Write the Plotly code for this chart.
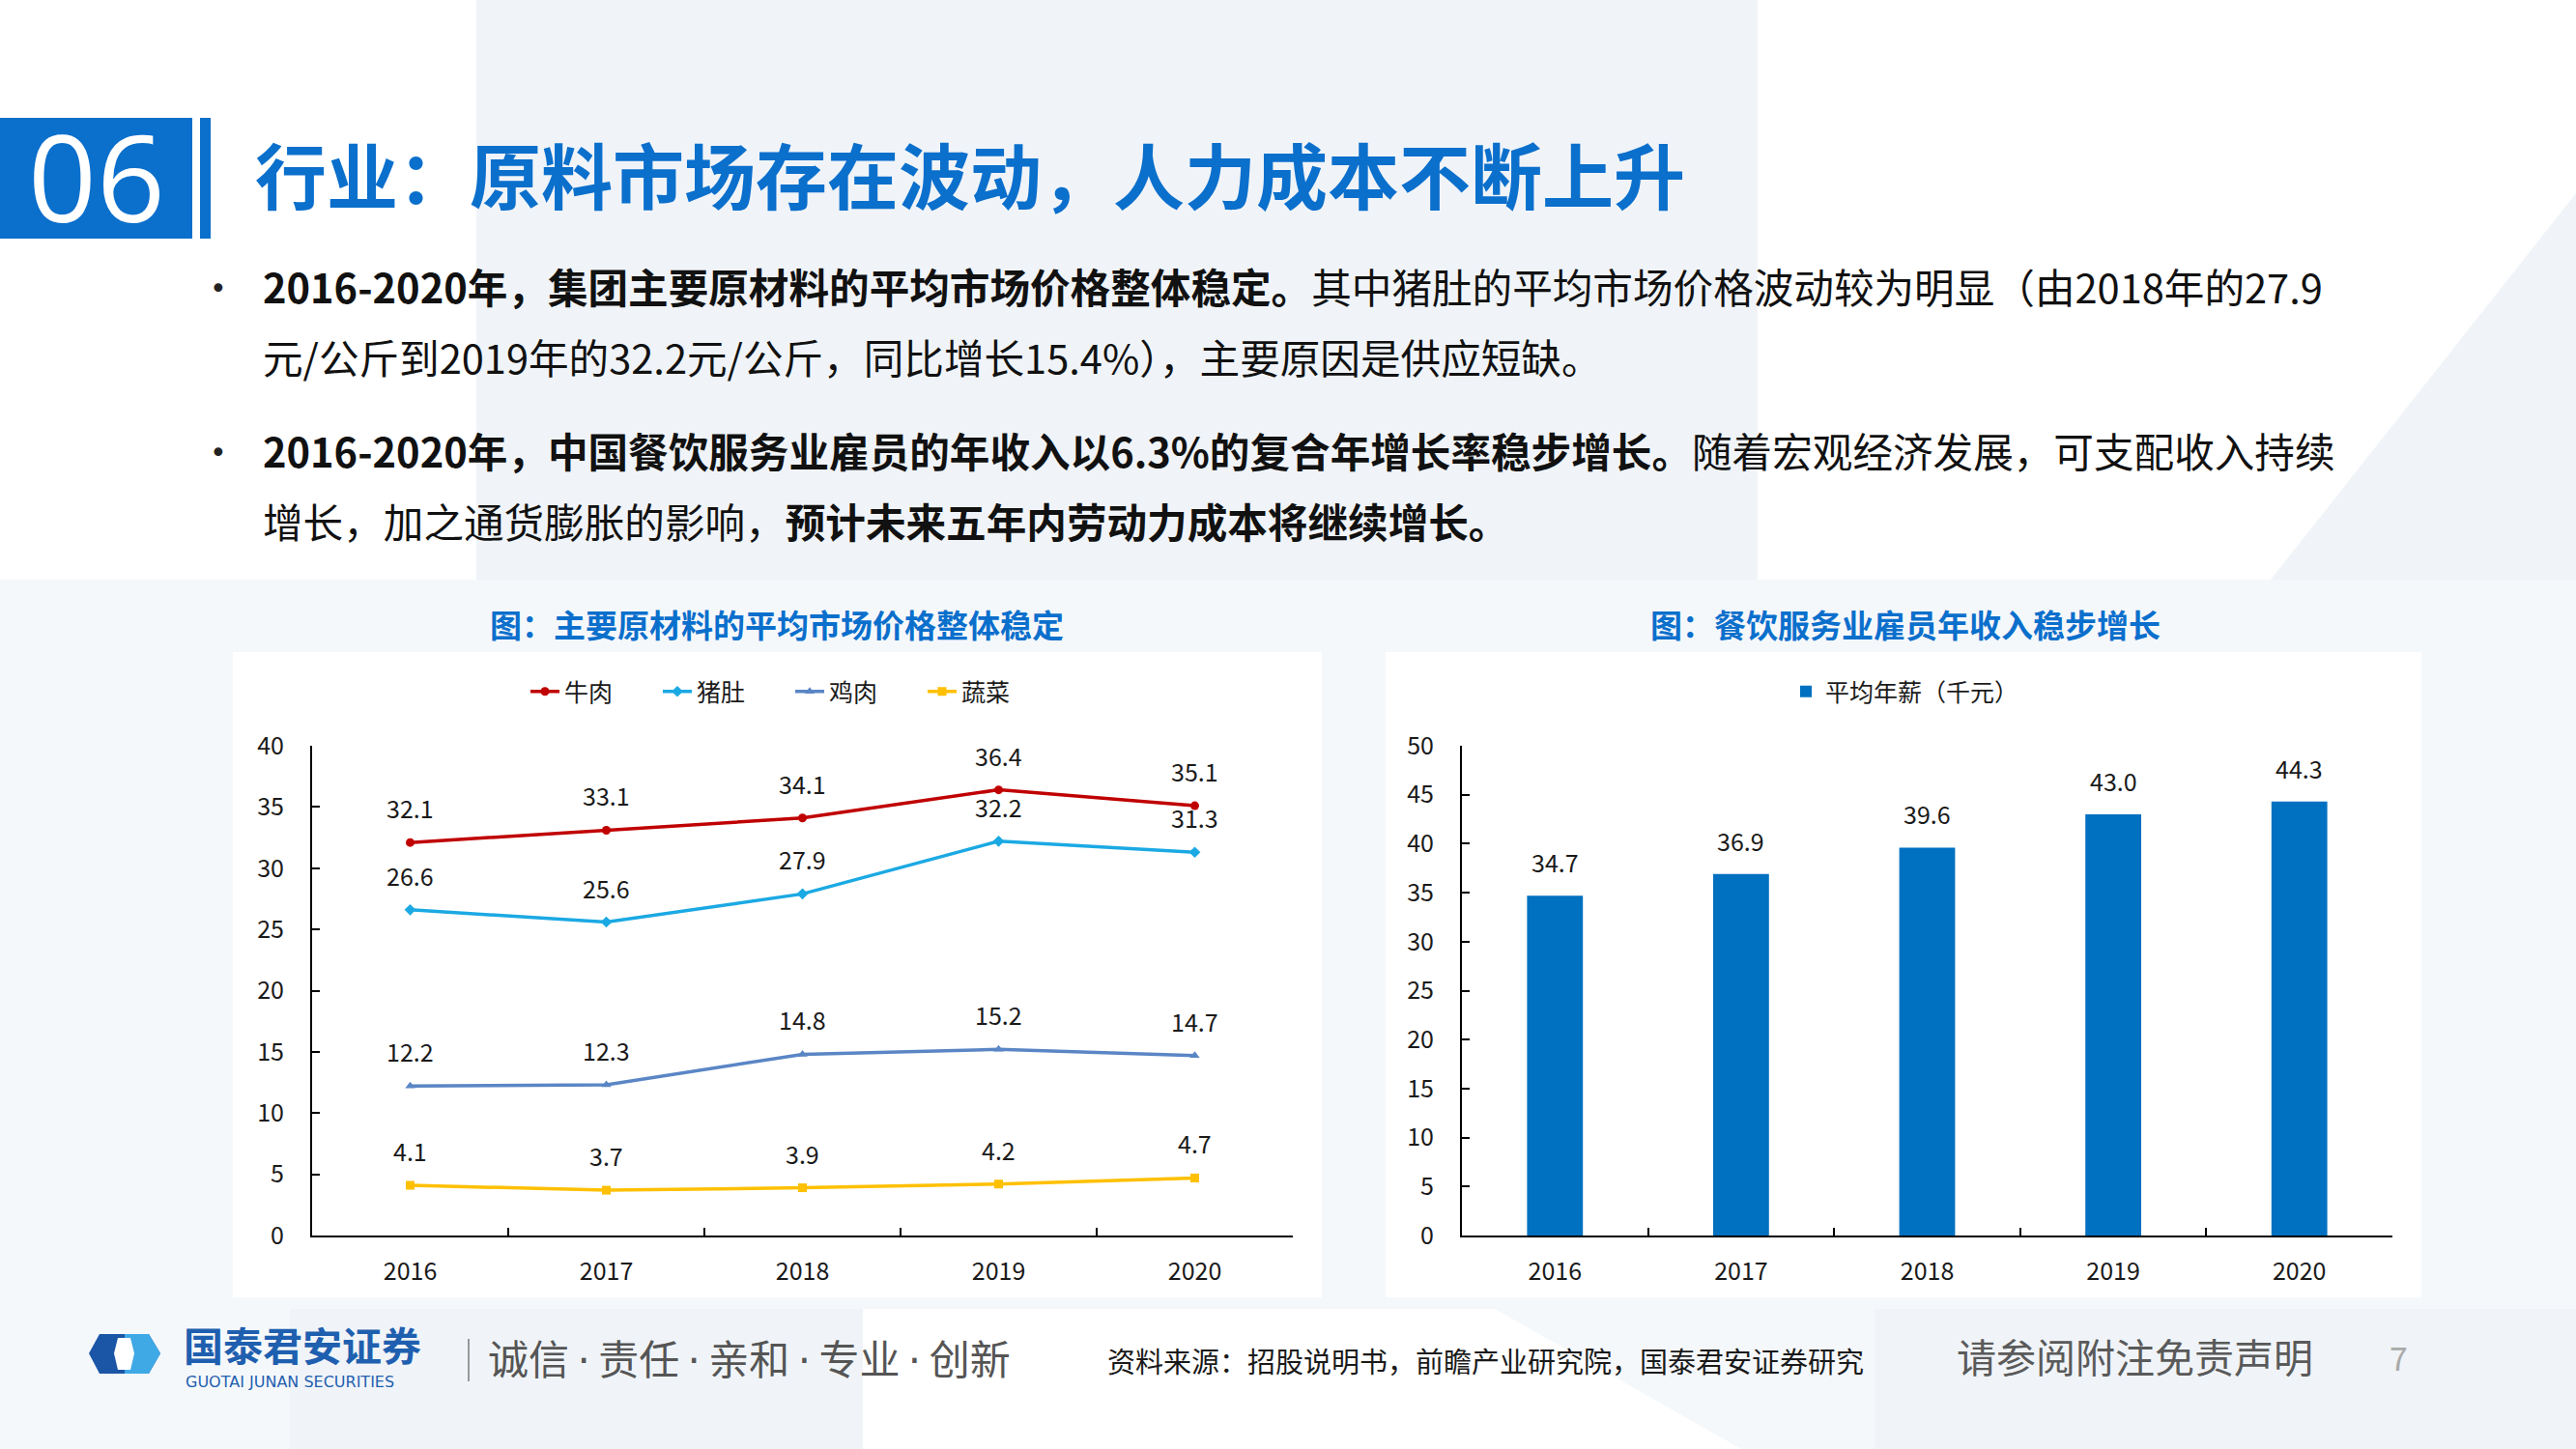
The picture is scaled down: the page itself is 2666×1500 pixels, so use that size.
import plotly.graph_objects as go

W, H = 2666, 1500

# ---------------- data ----------------
years = ["2016", "2017", "2018", "2019", "2020"]
beef = [32.1, 33.1, 34.1, 36.4, 35.1]        # 牛肉
tripe = [26.6, 25.6, 27.9, 32.2, 31.3]       # 猪肚
chicken = [12.2, 12.3, 14.8, 15.2, 14.7]     # 鸡肉
veg = [4.1, 3.7, 3.9, 4.2, 4.7]              # 蔬菜
salary = [34.7, 36.9, 39.6, 43.0, 44.3]      # 平均年薪（千元）

line_names = ["牛肉", "猪肚", "鸡肉", "蔬菜"]
line_colors = ["#C00000", "#1BA9E3", "#5A86C5", "#FFC000"]
line_symbols = ["circle", "diamond", "triangle-up", "square"]
line_values = [beef, tripe, chicken, veg]

y1_ticks = [0, 5, 10, 15, 20, 25, 30, 35, 40]
y2_ticks = [0, 5, 10, 15, 20, 25, 30, 35, 40, 45, 50]

FONT = "Noto Sans CJK SC"
BLUE = "#0B6FCC"


def px(x):
    return x / W


def py(y):
    return 1 - y / H


fig = go.Figure()

for name, vals, col, sym in zip(line_names, line_values, line_colors, line_symbols):
    fig.add_trace(go.Scatter(
        x=years, y=vals, name=name, mode="lines+markers",
        line=dict(color=col, width=3.5),
        marker=dict(symbol=sym, size=9, color=col),
        xaxis="x", yaxis="y", legend="legend",
    ))

fig.add_trace(go.Bar(
    x=years, y=salary, name="平均年薪（千元）",
    marker=dict(color="#0070C0", line=dict(width=0)),
    xaxis="x2", yaxis="y2", legend="legend2",
))

annotations = []
# data labels (x given as category index on the category axes)
for vals in line_values:
    for i, yv in enumerate(vals):
        annotations.append(dict(
            x=i, y=yv, xref="x", yref="y", text=f"{yv:.1f}", showarrow=False,
            xanchor="center", yanchor="middle",
            yshift=36, font=dict(family=FONT, size=25, color="#1a1a1a"),
        ))
for i, yv in enumerate(salary):
    annotations.append(dict(
        x=i, y=yv, xref="x2", yref="y2", text=f"{yv:.1f}", showarrow=False,
        xanchor="center", yanchor="middle",
        yshift=35, font=dict(family=FONT, size=25, color="#1a1a1a"),
    ))

# header
annotations.append(dict(x=px(100), y=py(182), xref="paper", yref="paper", text="06",
                        showarrow=False, xanchor="center", yanchor="middle",
                        font=dict(family="Open Sans", size=124, color="white")))
annotations.append(dict(x=px(262), y=py(178), xref="paper", yref="paper",
                        text="<b>行业：原料市场存在波动，人力成本不断上升</b>",
                        showarrow=False, xanchor="left", yanchor="middle",
                        font=dict(family=FONT, size=74, color=BLUE)))

# bullet text
bullet_lines = [
    ("<b>2016-2020年，集团主要原材料的平均市场价格整体稳定。</b>其中猪肚的平均市场价格波动较为明显（由2018年的27.9", 296),
    ("元/公斤到2019年的32.2元/公斤，同比增长15.4%），主要原因是供应短缺。", 369),
    ("<b>2016-2020年，中国餐饮服务业雇员的年收入以6.3%的复合年增长率稳步增长。</b>随着宏观经济发展，可支配收入持续", 466),
    ("增长，加之通货膨胀的影响，<b>预计未来五年内劳动力成本将继续增长。</b>", 539),
]
for txt, yy in bullet_lines:
    annotations.append(dict(x=px(270), y=py(yy), xref="paper", yref="paper", text=txt,
                            showarrow=False, xanchor="left", yanchor="middle",
                            font=dict(family=FONT, size=41.6, color="#111111")))
for yy in (298, 468):
    annotations.append(dict(x=px(226), y=py(yy), xref="paper", yref="paper", text="•",
                            showarrow=False, xanchor="center", yanchor="middle",
                            font=dict(family="DejaVu Sans", size=30, color="#222222")))

# chart titles
annotations.append(dict(x=px(804), y=py(646), xref="paper", yref="paper",
                        text="<b>图：主要原材料的平均市场价格整体稳定</b>", showarrow=False,
                        xanchor="center", yanchor="middle",
                        font=dict(family=FONT, size=33, color=BLUE)))
annotations.append(dict(x=px(1972), y=py(646), xref="paper", yref="paper",
                        text="<b>图：餐饮服务业雇员年收入稳步增长</b>", showarrow=False,
                        xanchor="center", yanchor="middle",
                        font=dict(family=FONT, size=33, color=BLUE)))

# footer
DOT = '<span style="font-family:DejaVu Sans">\u2009·\u2009</span>'
annotations.append(dict(x=px(188), y=py(1391), xref="paper", yref="paper",
                        text="<b>国泰君安证券</b>", showarrow=False, xanchor="left", yanchor="middle",
                        font=dict(family=FONT, size=41, color="#1F5FAF")))
annotations.append(dict(x=px(190), y=py(1430), xref="paper", yref="paper",
                        text="GUOTAI JUNAN SECURITIES", showarrow=False, xanchor="left", yanchor="middle",
                        font=dict(family="DejaVu Sans", size=16, color="#1F5FAF")))
annotations.append(dict(x=px(503), y=py(1404), xref="paper", yref="paper",
                        text="诚信" + DOT + "责任" + DOT + "亲和" + DOT + "专业" + DOT + "创新",
                        showarrow=False, xanchor="left", yanchor="middle",
                        font=dict(family=FONT, size=42, color="#555555")))
annotations.append(dict(x=px(1144), y=py(1408), xref="paper", yref="paper",
                        text="资料来源：招股说明书，前瞻产业研究院，国泰君安证券研究", showarrow=False,
                        xanchor="left", yanchor="middle",
                        font=dict(family=FONT, size=29, color="#1a1a1a")))
annotations.append(dict(x=px(2023), y=py(1403), xref="paper", yref="paper",
                        text="请参阅附注免责声明", showarrow=False, xanchor="left", yanchor="middle",
                        font=dict(family=FONT, size=41, color="#5a5a5a")))
annotations.append(dict(x=px(2482), y=py(1404), xref="paper", yref="paper",
                        text="7", showarrow=False, xanchor="center", yanchor="middle",
                        font=dict(family=FONT, size=34, color="#AAAAAA")))

LIGHT = "#F0F4F8"
LIGHT2 = "#F5F8FB"


def poly(points):
    s = "M " + " L ".join(f"{px(a):.5f},{py(b):.5f}" for a, b in points) + " Z"
    return s


shapes = [
    # background decoration
    dict(type="path", path=poly([(493, 0), (1819, 0), (1819, 620), (493, 620)]),
         xref="paper", yref="paper", fillcolor=LIGHT, line=dict(width=0), layer="below"),
    dict(type="path", path=poly([(0, 600), (2666, 600), (2666, 1500), (0, 1500)]),
         xref="paper", yref="paper", fillcolor=LIGHT2, line=dict(width=0), layer="below"),
    dict(type="path", path=poly([(300, 1355), (893, 1355), (893, 1500), (300, 1500)]),
         xref="paper", yref="paper", fillcolor=LIGHT, line=dict(width=0), layer="below"),
    dict(type="path", path=poly([(893, 1355), (1547, 1355), (1802, 1500), (893, 1500)]),
         xref="paper", yref="paper", fillcolor="#FFFFFF", line=dict(width=0), layer="below"),
    dict(type="path", path=poly([(1940, 1355), (2666, 1355), (2666, 1500), (1940, 1500)]),
         xref="paper", yref="paper", fillcolor=LIGHT, line=dict(width=0), layer="below"),
    dict(type="path", path=poly([(2666, 200), (2666, 600), (2350, 600)]),
         xref="paper", yref="paper", fillcolor=LIGHT, line=dict(width=0), layer="below"),
    # white chart panels
    dict(type="rect", x0=px(241), x1=px(1368), y0=py(1343), y1=py(675),
         xref="paper", yref="paper", fillcolor="white", line=dict(width=0), layer="below"),
    dict(type="rect", x0=px(1434), x1=px(2506), y0=py(1343), y1=py(675),
         xref="paper", yref="paper", fillcolor="white", line=dict(width=0), layer="below"),
    # header box and bar
    dict(type="rect", x0=0, x1=px(199), y0=py(247), y1=py(122),
         xref="paper", yref="paper", fillcolor=BLUE, line=dict(width=0)),
    dict(type="rect", x0=px(207), x1=px(218), y0=py(247), y1=py(122),
         xref="paper", yref="paper", fillcolor=BLUE, line=dict(width=0)),
    # logo emblem
    dict(type="path", path=poly([(92, 1401), (103, 1381), (154, 1381), (166, 1401), (154, 1422), (103, 1422)]),
         xref="paper", yref="paper", fillcolor="#1B56A6", line=dict(width=0)),
    dict(type="path", path=poly([(129, 1381), (154, 1381), (166, 1401), (154, 1422), (129, 1422)]),
         xref="paper", yref="paper", fillcolor="#3FA9E6", line=dict(width=0)),
    dict(type="path", path=poly([(122, 1385), (135, 1385), (139, 1401), (135, 1418), (122, 1418), (118, 1401)]),
         xref="paper", yref="paper", fillcolor="#FFFFFF", line=dict(width=0)),
    # footer separator
    dict(type="line", x0=px(485), x1=px(485), y0=py(1386), y1=py(1430),
         xref="paper", yref="paper", line=dict(color="#999999", width=2)),
]

axis_common = dict(
    showline=True, linecolor="black", linewidth=2, showgrid=False, zeroline=False,
    ticks="inside", ticklen=8, tickwidth=2, tickcolor="black", automargin=False,
    tickfont=dict(family=FONT, size=25, color="#1a1a1a"),
)

fig.update_layout(
    width=W, height=H, autosize=False,
    margin=dict(l=0, r=0, t=0, b=0, pad=0, autoexpand=False),
    paper_bgcolor="white", plot_bgcolor="rgba(0,0,0,0)",
    font=dict(family=FONT),
    xaxis=dict(domain=[px(323), px(1338)], anchor="y", type="category",
               range=[-0.5, 4.5], tickson="boundaries", ticklabelstandoff=14, **axis_common),
    yaxis=dict(domain=[py(1279), py(772)], anchor="x", range=[0, 40],
               tickvals=y1_ticks, ticklabelstandoff=22, **axis_common),
    xaxis2=dict(domain=[px(1513), px(2476)], anchor="y2", type="category",
                range=[-0.5, 4.5], tickson="boundaries", ticklabelstandoff=14, **axis_common),
    yaxis2=dict(domain=[py(1279), py(772)], anchor="x2", range=[0, 50],
                tickvals=y2_ticks, ticklabelstandoff=22, **axis_common),
    bargap=0.7,
    legend=dict(orientation="h", x=px(818), xanchor="center", y=py(716), yanchor="middle",
                bgcolor="rgba(0,0,0,0)", font=dict(family=FONT, size=25, color="#1a1a1a"),
                itemwidth=30, entrywidth=92, entrywidthmode="pixels", tracegroupgap=0),
    legend2=dict(orientation="h", x=px(1972), xanchor="center", y=py(716), yanchor="middle",
                 bgcolor="rgba(0,0,0,0)", font=dict(family=FONT, size=25, color="#1a1a1a")),
    annotations=annotations,
    shapes=shapes,
    showlegend=True,
)

fig.write_html("out.html")
